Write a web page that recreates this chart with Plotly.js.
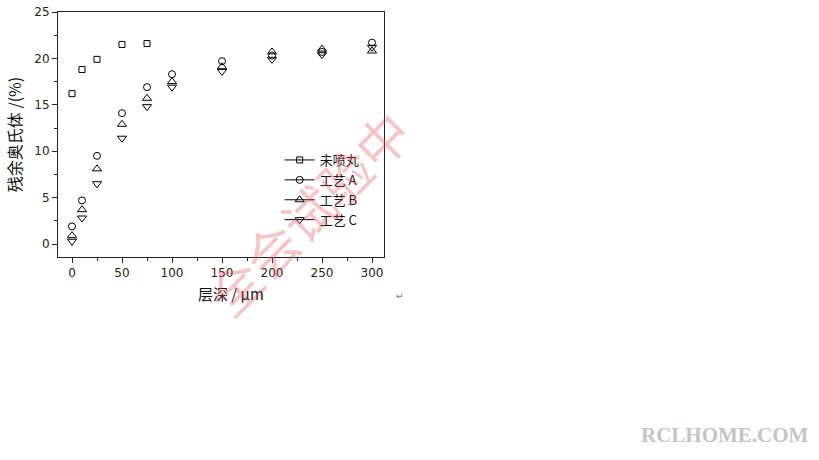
<!DOCTYPE html>
<html>
<head>
<meta charset="utf-8">
<script src="https://cdn.plot.ly/plotly-3.0.1.min.js"></script>
<style>html,body{margin:0;padding:0;background:#fff;}#chart{width:819px;height:460px;}</style>
</head>
<body>
<div id="chart"></div>
<script>
// Data
const depthUnpeened = [0, 10, 25, 50, 75];
const unpeened = [16.2, 18.8, 19.9, 21.5, 21.6];
const depth = [0, 10, 25, 50, 75, 100, 150, 200, 250, 300];
const processA = [1.9, 4.7, 9.5, 14.1, 16.9, 18.3, 19.7, 20.3, 20.7, 21.7];
const processB = [0.9, 3.7, 8.1, 12.9, 15.7, 17.5, 19.1, 20.7, 21.0, 20.8];
const processC = [0.3, 2.8, 6.5, 11.4, 14.8, 16.9, 18.6, 19.9, 20.4, 21.2];
const seriesNames = ['未喷丸', '工艺 A', '工艺 B', '工艺 C'];
const symbols = ['square-open', 'circle-open', 'triangle-up-open', 'triangle-down-open'];
const xTitle = '层深 / μm';
const yTitle = '残余奥氏体 /(%)';

const seriesX = [depthUnpeened, depth, depth, depth];
const seriesY = [unpeened, processA, processB, processC];
const sizes = [6, 7, 8, 8];

const traces = [];
for (let i = 0; i < 4; i++) {
  traces.push({
    x: seriesX[i], y: seriesY[i], type: 'scatter', mode: 'markers',
    showlegend: false, cliponaxis: false,
    marker: {symbol: symbols[i], size: sizes[i], color: '#000', line: {color: '#000', width: 1}}
  });
}
for (let i = 0; i < 4; i++) {
  traces.push({
    x: [null], y: [null], type: 'scatter', mode: 'lines+markers', name: seriesNames[i],
    line: {color: '#000', width: 1},
    marker: {symbol: symbols[i], size: sizes[i], color: '#000', line: {color: '#000', width: 1}}
  });
}

// plot area in page pixels: left 58, right 384, top 12, bottom 257
const PL = 58, PW = 326, PB = 257, PH = 245;
const px = v => (v - PL) / PW;
const py = v => (PB - v) / PH;

const tickFont = {family: 'DejaVu Sans', size: 12, color: '#222'};
const layout = {
  width: 819, height: 460,
  paper_bgcolor: '#fff', plot_bgcolor: '#fff',
  margin: {l: 58, r: 435, t: 12, b: 203},
  showlegend: true,
  legend: {
    x: 0.68, y: py(145), xanchor: 'left', yanchor: 'top',
    bgcolor: 'rgba(0,0,0,0)', borderwidth: 0,
    font: {family: 'Noto Sans CJK SC', size: 13, color: '#111'},
    itemwidth: 30, tracegroupgap: 0
  },
  xaxis: {
    range: [-14, 312], showgrid: false, zeroline: false,
    showline: true, mirror: true, linecolor: '#222', linewidth: 1,
    ticks: 'outside', ticklen: 5, tickcolor: '#222', tickwidth: 1,
    tick0: 0, dtick: 50, tickfont: tickFont,
    minor: {ticks: 'outside', dtick: 25, ticklen: 3, tickcolor: '#222', showgrid: false},
    title: {text: ''}
  },
  yaxis: {
    range: [-1.4, 25], showgrid: false, zeroline: false,
    showline: true, mirror: true, linecolor: '#222', linewidth: 1,
    ticks: 'outside', ticklen: 5, tickcolor: '#222', tickwidth: 1,
    tick0: 0, dtick: 5, tickfont: tickFont,
    minor: {ticks: 'outside', dtick: 2.5, ticklen: 3, tickcolor: '#222', showgrid: false},
    title: {text: yTitle, font: {family: 'Noto Sans CJK SC', size: 16, color: '#111'}, standoff: 8}
  },
  annotations: [
    {text: xTitle, xref: 'paper', yref: 'paper', x: px(231), y: py(293), xanchor: 'center', yanchor: 'middle',
     showarrow: false, font: {family: 'Noto Sans CJK SC', size: 15, color: '#111'}},
    {text: '全会试验中', xref: 'paper', yref: 'paper', x: px(307), y: py(212), xanchor: 'center', yanchor: 'middle',
     textangle: -45, showarrow: false,
     font: {family: 'Noto Sans CJK SC', size: 52, color: 'rgba(230,90,90,0.35)'}},
    {text: 'RCLHOME.COM', xref: 'paper', yref: 'paper', x: px(811), y: py(435), xanchor: 'right', yanchor: 'middle',
     showarrow: false,
     font: {family: 'Liberation Serif', size: 21, color: '#c4c4c4', weight: 'bold'}},
    {text: '↵', xref: 'paper', yref: 'paper', x: px(394), y: py(296), xanchor: 'left', yanchor: 'middle',
     showarrow: false, font: {family: 'DejaVu Sans', size: 9, color: '#777'}}
  ]
};

Plotly.newPlot('chart', traces, layout, {displayModeBar: false, staticPlot: true});
</script>
</body>
</html>
